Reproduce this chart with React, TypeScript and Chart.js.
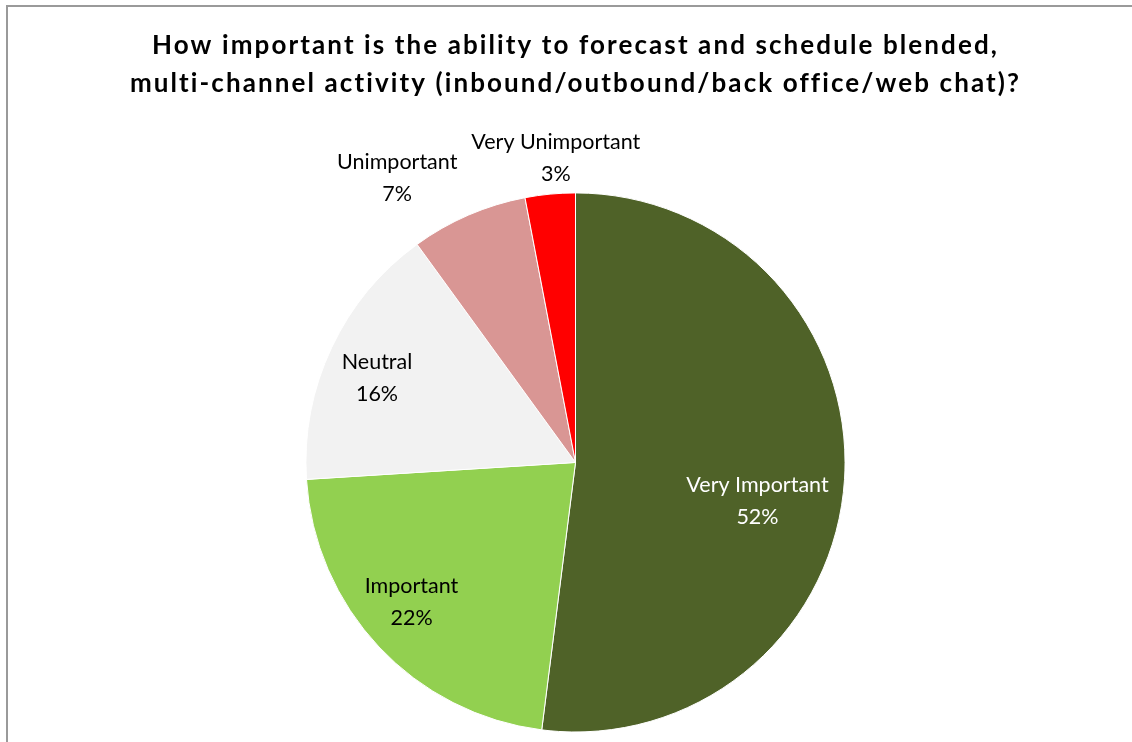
import React, { useEffect, useRef } from "react";
import { Chart, registerables } from "chart.js";

Chart.register(...registerables);

const categories = ["Very Important", "Important", "Neutral", "Unimportant", "Very Unimportant"];
const values = [52, 22, 16, 7, 3];
const sliceColors = ["#4F6228", "#92D050", "#F2F2F2", "#D99694", "#FF0000"];
const labelColors = ["#FFFFFF", "#000000", "#000000", "#000000", "#000000"];
const titleLines = [
  "How important is the ability to forecast and schedule blended,",
  "multi-channel activity (inbound/outbound/back office/web chat)?",
];

// label placement: [angle shift from slice middle (deg), radius factor]
const labelPlacement: [number, number][] = [
  [8.3, 0.69],
  [2.7, 0.8],
  [-2.2, 0.8],
  [-8.7, 1.245],
  [1.7, 1.133],
];

const frameBorder = {
  id: "frameBorder",
  beforeDraw(chart: any) {
    const ctx = chart.ctx;
    ctx.save();
    ctx.strokeStyle = "#9a9a9a";
    ctx.lineWidth = 2;
    ctx.beginPath();
    ctx.moveTo(7, chart.height);
    ctx.lineTo(7, 6);
    ctx.lineTo(chart.width, 6);
    ctx.stroke();
    ctx.restore();
    // title is drawn with slightly wider tracking
    ctx.letterSpacing = "2.1px";
  },
  afterDraw(chart: any) {
    chart.ctx.letterSpacing = "0px";
  },
};

const sliceLabels = {
  id: "sliceLabels",
  afterDatasetsDraw(chart: any) {
    const ctx = chart.ctx;
    const meta = chart.getDatasetMeta(0);
    const total = values.reduce((a, b) => a + b, 0);
    ctx.save();
    ctx.letterSpacing = "0px";
    ctx.font = "21.5px Lato";
    ctx.textAlign = "center";
    ctx.textBaseline = "middle";
    meta.data.forEach((arc: any, i: number) => {
      const p = arc.getProps(["x", "y", "startAngle", "endAngle", "outerRadius"], true);
      const mid = (p.startAngle + p.endAngle) / 2 + (labelPlacement[i][0] * Math.PI) / 180;
      const r = p.outerRadius * labelPlacement[i][1];
      const cx = p.x + Math.cos(mid) * r;
      const cy = p.y + Math.sin(mid) * r;
      const pct = Math.round((values[i] / total) * 100) + "%";
      ctx.fillStyle = labelColors[i];
      ctx.fillText(categories[i], cx, cy - 16);
      ctx.fillText(pct, cx, cy + 16);
    });
    ctx.restore();
  },
};

export default function App() {
  const ref = useRef<HTMLCanvasElement | null>(null);
  useEffect(() => {
    if (!ref.current) return;
    const chart = new Chart(ref.current, {
      type: "pie",
      data: {
        labels: categories,
        datasets: [
          {
            data: values,
            backgroundColor: sliceColors,
            borderColor: "#FFFFFF",
            borderWidth: 1,
          },
        ],
      },
      options: {
        responsive: false,
        animation: false,
        layout: { padding: { top: 27, left: 19, right: 0, bottom: 9.5 } },
        plugins: {
          legend: { display: false },
          tooltip: { enabled: false },
          title: {
            display: true,
            text: titleLines,
            color: "#000000",
            font: { family: "Lato", size: 26, weight: "bold", lineHeight: 1.46 },
            padding: { top: 0, bottom: 89.5 },
          },
        },
      },
      plugins: [frameBorder, sliceLabels],
    });
    return () => chart.destroy();
  }, []);
  return (
    <div style={{ position: "fixed", left: 0, top: 0, width: 1132, height: 742, background: "#fff" }}>
      <canvas ref={ref} width={1132} height={742} />
    </div>
  );
}
